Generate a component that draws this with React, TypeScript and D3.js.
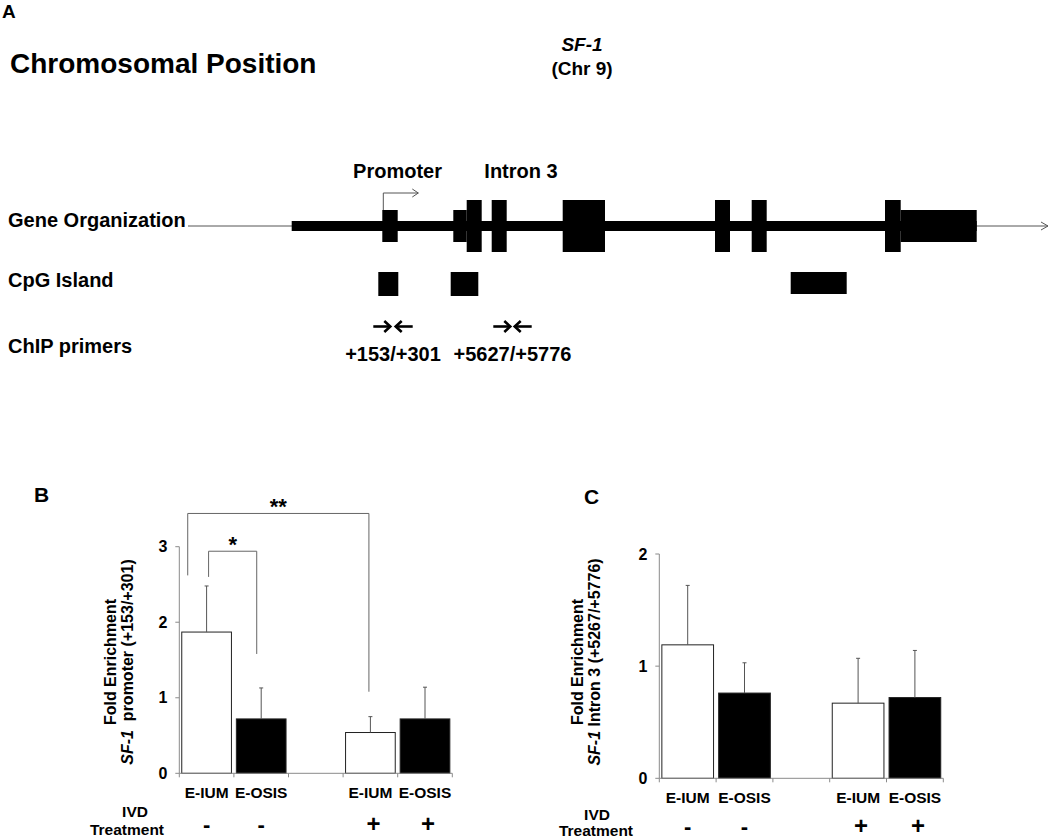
import React from "react";
import * as d3 from "d3";

const FONT = "'Liberation Sans', Arial, Helvetica, sans-serif";

// ---------- Panel B / C data ----------
const groupLabels = ["E-IUM", "E-OSIS", "E-IUM", "E-OSIS"];
const treatmentSigns = ["-", "-", "+", "+"];
const slotKeys = ["s0", "s1", "s2", "s3", "s4"];
const barSlots = ["s0", "s1", "s3", "s4"];
const barFills = ["#ffffff", "#000000", "#ffffff", "#000000"];
const promoterMeans = [1.87, 0.72, 0.54, 0.72];
const promoterSD = [0.61, 0.41, 0.21, 0.42];
const intronMeans = [1.19, 0.76, 0.67, 0.72];
const intronSD = [0.53, 0.27, 0.4, 0.42];
const promoterTicks = [0, 1, 2, 3];
const intronTicks = [0, 1, 2];

// significance brackets (panel B)
const sigLabels = ["**", "*"];
const sigFrom = [0, 0];
const sigTo = [2, 1];
const sigFromPos = [0.12, 0.54];
const sigToPos = [0.47, 0.41];
const sigTop = [3.44, 2.94];
const sigLeftEnd = [2.62, 2.6];
const sigRightEnd = [1.08, 1.58];

// ---------- Panel A data (relative locus units) ----------
const locusSpan = [0, 860];
const cdsSpan = [103.7, 788.7];
const exonStarts = [194.3, 265.3, 278.7, 303.7, 374.7, 527, 563.7, 697, 712.7];
const exonEnds = [209.7, 278.7, 293.7, 318.7, 417, 542, 578.7, 712.7, 788.7];
const exonLevels = [1, 1, 2, 2, 2, 2, 2, 2, 1];
const cpgStarts = [190.3, 262.7, 602.7];
const cpgEnds = [210.3, 290.3, 658.7];
const primerFwdStart = [185.3, 305.3];
const primerRevEnd = [224.7, 343.7];
const primerLabels = ["+153/+301", "+5627/+5776"];
const tssPos = 195.3;
const regionLabels = ["Promoter", "Intron 3"];
const regionLabelPos = [209.5, 333];
const rowLabels = ["Gene Organization", "CpG Island", "ChIP primers"];

type PanelProps = {
  letter: string;
  letterX: number;
  letterY: number;
  xRange: [number, number];
  yRange: [number, number];
  yMax: number;
  ticks: number[];
  means: number[];
  sds: number[];
  titleX1: number;
  titleX2: number;
  titleY: number;
  titleLine2: string;
  ivdX: number;
  treatX: number;
  labelDy: number;
  ivdDy: number;
  treatDy: number;
  signDy: number;
  brackets?: boolean;
};

function BarPanel(p: PanelProps) {
  const x = d3
    .scaleBand<string>()
    .domain(slotKeys)
    .range(p.xRange)
    .paddingInner(0.09)
    .paddingOuter(0.045);
  const y = d3.scaleLinear().domain([0, p.yMax]).range(p.yRange);
  const step = x.step();
  const bw = x.bandwidth();
  const y0 = y(0);
  const axisColor = "#8a8a8a";
  const errColor = "#555";
  const boundaries = d3.range(slotKeys.length + 1).map((i) => p.xRange[0] + i * step);

  return (
    <g>
      <text x={p.letterX} y={p.letterY} fontSize={21} fontWeight="bold" fontFamily={FONT}>
        {p.letter}
      </text>
      {/* bars */}
      {p.means.map((m, i) => {
        const bx = x(barSlots[i])!;
        return (
          <rect
            key={"b" + i}
            x={bx}
            y={y(m)}
            width={bw}
            height={y0 - y(m)}
            fill={barFills[i]}
            stroke="#222"
            strokeWidth={1}
          />
        );
      })}
      {/* error bars */}
      {p.means.map((m, i) => {
        const cx = x(barSlots[i])! + bw / 2;
        const top = y(m + p.sds[i]);
        return (
          <g key={"e" + i} stroke={errColor} strokeWidth={1}>
            <line x1={cx} x2={cx} y1={y(m)} y2={top} />
            <line x1={cx - 2} x2={cx + 2} y1={top} y2={top} />
          </g>
        );
      })}
      {/* axes */}
      <line x1={p.xRange[0]} x2={p.xRange[0]} y1={y0} y2={y(p.yMax)} stroke={axisColor} strokeWidth={1} />
      <line x1={p.xRange[0]} x2={p.xRange[1]} y1={y0} y2={y0} stroke={axisColor} strokeWidth={1} />
      {p.ticks.map((t) => (
        <g key={"t" + t}>
          <line x1={p.xRange[0] - 4} x2={p.xRange[0]} y1={y(t)} y2={y(t)} stroke={axisColor} />
          <text
            x={p.xRange[0] - 12}
            y={y(t) + 5.5}
            textAnchor="end"
            fontSize={16}
            fontWeight="bold"
            fontFamily={FONT}
          >
            {t}
          </text>
        </g>
      ))}
      {boundaries.map((bx, i) => (
        <line key={"xt" + i} x1={bx} x2={bx} y1={y0} y2={y0 + 4} stroke={axisColor} />
      ))}
      {/* category labels */}
      {groupLabels.map((g, i) => (
        <text
          key={"g" + i}
          x={x(barSlots[i])! + bw / 2}
          y={y0 + p.labelDy}
          textAnchor="middle"
          fontSize={15.5}
          fontWeight="bold"
          fontFamily={FONT}
        >
          {g}
        </text>
      ))}
      {treatmentSigns.map((s, i) => (
        <text
          key={"s" + i}
          x={x(barSlots[i])! + bw / 2 + (s === "+" ? 3 : 0)}
          y={y0 + p.signDy}
          textAnchor="middle"
          fontSize={s === "+" ? 24 : 22}
          fontWeight="bold"
          fontFamily={FONT}
        >
          {s}
        </text>
      ))}
      <text x={p.ivdX} y={y0 + p.ivdDy} textAnchor="middle" fontSize={15.5} fontWeight="bold" fontFamily={FONT}>
        IVD
      </text>
      <text x={p.treatX} y={y0 + p.treatDy} textAnchor="middle" fontSize={15.5} fontWeight="bold" fontFamily={FONT}>
        Treatment
      </text>
      {/* y title */}
      <text
        transform={`translate(${p.titleX1},${p.titleY}) rotate(-90)`}
        textAnchor="middle"
        fontSize={16}
        fontWeight="bold"
        fontFamily={FONT}
      >
        Fold Enrichment
      </text>
      <text
        transform={`translate(${p.titleX2},${p.titleY}) rotate(-90)`}
        textAnchor="middle"
        fontSize={16}
        fontWeight="bold"
        fontFamily={FONT}
        style={{ whiteSpace: "pre" }}
      >
        <tspan fontStyle="italic">SF-1</tspan>
        {p.titleLine2}
      </text>
      {/* significance brackets */}
      {p.brackets &&
        sigLabels.map((lab, i) => {
          const xl = x(barSlots[sigFrom[i]])! + bw * sigFromPos[i];
          const xr = x(barSlots[sigTo[i]])! + bw * sigToPos[i];
          const yt = y(sigTop[i]);
          return (
            <g key={"sig" + i}>
              <path
                d={`M${xl},${y(sigLeftEnd[i])}V${yt}H${xr}V${y(sigRightEnd[i])}`}
                fill="none"
                stroke="#666"
                strokeWidth={1}
              />
              <text
                x={(xl + xr) / 2}
                y={yt + 1}
                textAnchor="middle"
                fontSize={22}
                fontWeight="bold"
                fontFamily={FONT}
              >
                {lab}
              </text>
            </g>
          );
        })}
    </g>
  );
}

function GenePanel() {
  const gx = d3.scaleLinear().domain(locusSpan).range([188, 1048]);
  const cy = 226;
  const halfH = d3.scaleLinear().domain([0, 1, 2]).range([5, 16, 26]);
  const lineColor = "#555";
  const arrowLen = 18;
  return (
    <g fontFamily={FONT} fontWeight="bold">
      <text x={2} y={18} fontSize={19}>A</text>
      <text x={10} y={73} fontSize={28}>Chromosomal Position</text>
      <text x={582} y={51} fontSize={19} textAnchor="middle" fontStyle="italic">SF-1</text>
      <text x={582} y={75} fontSize={19} textAnchor="middle">(Chr 9)</text>

      {rowLabels.map((r, i) => (
        <text key={r} x={8} y={[227, 287, 353][i]} fontSize={20}>
          {r}
        </text>
      ))}

      {/* thin locus line with arrow */}
      <line x1={gx(locusSpan[0])} x2={gx(locusSpan[1])} y1={cy} y2={cy} stroke={lineColor} strokeWidth={1} />
      <path
        d={`M${gx(locusSpan[1]) - 7},${cy - 4}L${gx(locusSpan[1])},${cy}L${gx(locusSpan[1]) - 7},${cy + 4}`}
        fill="none"
        stroke={lineColor}
        strokeWidth={1}
      />
      {/* thick backbone */}
      <rect
        x={gx(cdsSpan[0])}
        y={cy - halfH(0)}
        width={gx(cdsSpan[1]) - gx(cdsSpan[0])}
        height={2 * halfH(0)}
        fill="#000"
      />
      {exonStarts.map((s, i) => (
        <rect
          key={"ex" + i}
          x={gx(s)}
          y={cy - halfH(exonLevels[i])}
          width={gx(exonEnds[i]) - gx(s)}
          height={2 * halfH(exonLevels[i])}
          fill="#000"
        />
      ))}
      {/* TSS arrow */}
      <path
        d={`M${gx(tssPos)},${cy - halfH(1)}V${cy - 33}H${gx(tssPos) + 35}`}
        fill="none"
        stroke={lineColor}
        strokeWidth={1}
      />
      <path
        d={`M${gx(tssPos) + 29},${cy - 37}L${gx(tssPos) + 35},${cy - 33}L${gx(tssPos) + 29},${cy - 29}`}
        fill="none"
        stroke={lineColor}
        strokeWidth={1}
      />
      {regionLabels.map((r, i) => (
        <text key={r} x={gx(regionLabelPos[i])} y={178} fontSize={20} textAnchor="middle">
          {r}
        </text>
      ))}
      {/* CpG islands */}
      {cpgStarts.map((s, i) => (
        <rect key={"cpg" + i} x={gx(s)} y={272} width={gx(cpgEnds[i]) - gx(s)} height={i === 2 ? 22 : 24} fill="#000" />
      ))}
      {/* primers */}
      {primerFwdStart.map((s, i) => {
        const py = 326.5;
        const f0 = gx(s);
        const f1 = f0 + arrowLen - 1;
        const r1 = gx(primerRevEnd[i]);
        const r0 = r1 - arrowLen + 1;
        return (
          <g key={"pr" + i} stroke="#000" strokeWidth={2.6} fill="none">
            <line x1={f0} x2={f1 - 1} y1={py} y2={py} />
            <path d={`M${f1 - 6},${py - 5.5}L${f1},${py}L${f1 - 6},${py + 5.5}`} />
            <line x1={r0 + 1} x2={r1} y1={py} y2={py} />
            <path d={`M${r0 + 6},${py - 5.5}L${r0},${py}L${r0 + 6},${py + 5.5}`} />
          </g>
        );
      })}
      {primerLabels.map((l, i) => (
        <text
          key={l}
          x={(gx(primerFwdStart[i]) + gx(primerRevEnd[i])) / 2}
          y={361}
          fontSize={20}
          textAnchor="middle"
        >
          {l}
        </text>
      ))}
    </g>
  );
}

export default function App() {
  return (
    <svg
      width={1050}
      height={840}
      viewBox="0 0 1050 840"
      style={{ position: "absolute", left: 0, top: 0, background: "#fff", display: "block" }}
    >
      <rect width={1050} height={840} fill="#fff" />
      <GenePanel />
      <BarPanel
        letter="B"
        letterX={34}
        letterY={502}
        xRange={[179.3, 452.3]}
        yRange={[773.3, 546.7]}
        yMax={3}
        ticks={promoterTicks}
        means={promoterMeans}
        sds={promoterSD}
        titleX1={116}
        titleX2={133}
        titleY={662}
        titleLine2={"  promoter (+153/+301)"}
        ivdX={135}
        treatX={127}
        labelDy={25}
        ivdDy={43.5}
        treatDy={62}
        signDy={59}
        brackets
      />
      <BarPanel
        letter="C"
        letterX={584}
        letterY={504}
        xRange={[659.3, 943.3]}
        yRange={[778.3, 554]}
        yMax={2}
        ticks={intronTicks}
        means={intronMeans}
        sds={intronSD}
        titleX1={582.5}
        titleX2={599.5}
        titleY={662}
        titleLine2={" Intron 3 (+5267/+5776)"}
        ivdX={597}
        treatX={596}
        labelDy={24.5}
        ivdDy={42}
        treatDy={58}
        signDy={55.5}
      />
    </svg>
  );
}
